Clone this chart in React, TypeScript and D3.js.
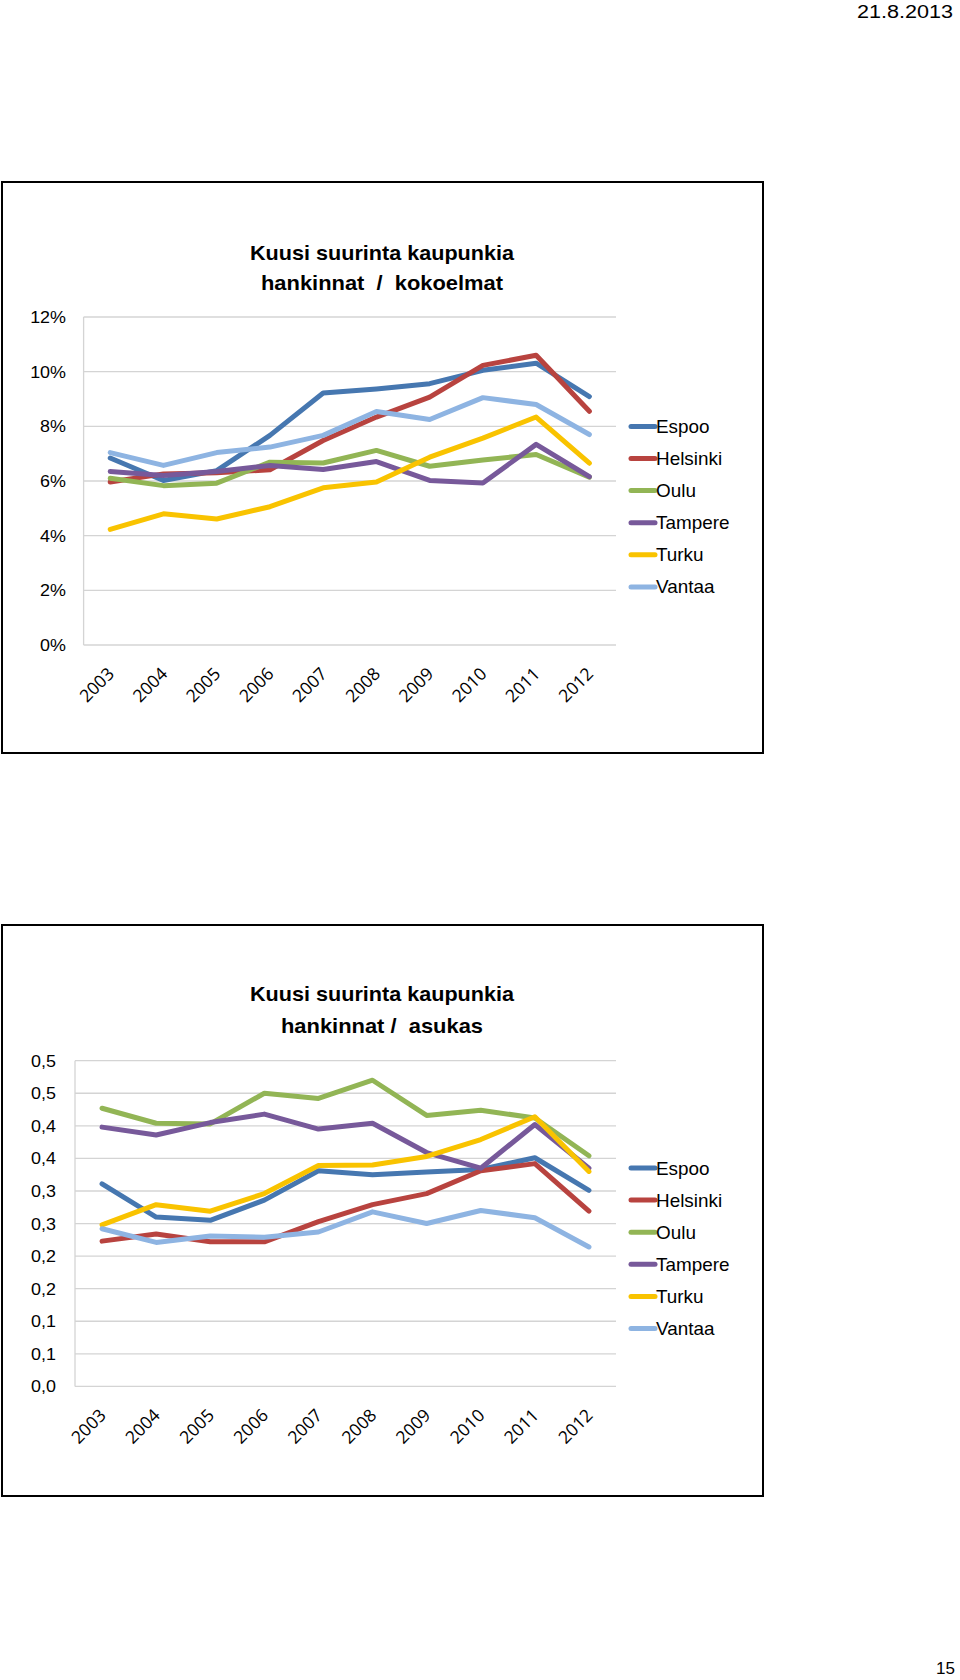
import React from "react";
import * as d3 from "d3";

const years = ["2003","2004","2005","2006","2007","2008","2009","2010","2011","2012"];
const cities = ["Espoo","Helsinki","Oulu","Tampere","Turku","Vantaa"];
const colors = ["#4677B0","#B8433F","#92B555","#77599A","#F9C300","#8EB4E2"];

// Chart 1: hankinnat / kokoelmat (%)
const kokoEspoo = [6.84,6.02,6.38,7.67,9.22,9.37,9.56,10.05,10.31,9.09];
const kokoHelsinki = [5.96,6.26,6.30,6.41,7.48,8.34,9.07,10.23,10.60,8.55];
const kokoOulu = [6.10,5.83,5.92,6.69,6.66,7.12,6.54,6.77,6.97,6.14];
const kokoTampere = [6.35,6.20,6.35,6.57,6.42,6.71,6.02,5.93,7.34,6.16];
const kokoTurku = [4.23,4.80,4.61,5.06,5.75,5.96,6.87,7.57,8.34,6.65];
const kokoVantaa = [7.04,6.57,7.04,7.24,7.67,8.54,8.25,9.05,8.80,7.70];
const kokoTicks = [0,2,4,6,8,10,12];
const kokoTickLabels = ["0%","2%","4%","6%","8%","10%","12%"];

// Chart 2: hankinnat / asukas
const asEspoo = [0.311,0.260,0.255,0.286,0.331,0.325,0.329,0.333,0.351,0.301];
const asHelsinki = [0.223,0.234,0.222,0.222,0.253,0.279,0.296,0.331,0.342,0.269];
const asOulu = [0.427,0.404,0.403,0.450,0.442,0.470,0.416,0.424,0.412,0.354];
const asTampere = [0.398,0.386,0.405,0.418,0.395,0.404,0.359,0.335,0.402,0.335];
const asTurku = [0.248,0.279,0.269,0.296,0.339,0.340,0.353,0.379,0.414,0.330];
const asVantaa = [0.242,0.221,0.231,0.229,0.237,0.268,0.250,0.270,0.259,0.214];
const asTicks = [0,0.05,0.1,0.15,0.2,0.25,0.3,0.35,0.4,0.45,0.5];
const asTickLabels = ["0,0","0,1","0,1","0,2","0,2","0,3","0,3","0,4","0,4","0,5","0,5"];

const kokoSeries = [kokoEspoo,kokoHelsinki,kokoOulu,kokoTampere,kokoTurku,kokoVantaa];
const asSeries = [asEspoo,asHelsinki,asOulu,asTampere,asTurku,asVantaa];

const SANS = "'Liberation Sans', Arial, sans-serif";
const YEARFONT = "'Open Sans', 'Liberation Sans', sans-serif";

type ChartProps = {
  box: [number, number, number, number];
  title2: string;
  titleY: [number, number];
  titleW: [number, number];
  series: number[][];
  yDomain: [number, number];
  yRange: [number, number];
  xRange: [number, number];
  ticks: number[];
  tickLabels: string[];
  tickRight: number;
  legendY: number;
};

function Chart(p: ChartProps) {
  const x = d3.scaleBand<string>().domain(years).range(p.xRange);
  const cx = (yr: string) => (x(yr) as number) + x.bandwidth() / 2;
  const y = d3.scaleLinear().domain(p.yDomain).range(p.yRange);
  const line = d3
    .line<number>()
    .x((_, i) => cx(years[i]))
    .y((v) => y(v));
  const [bx0, by0, bx1, by1] = p.box;
  const titleX = 382;
  const axisY = y(p.yDomain[0]);
  return (
    <g>
      <rect x={bx0} y={by0} width={bx1 - bx0} height={by1 - by0} fill="#fff" stroke="#000" strokeWidth={2} />
      <text x={titleX} y={p.titleY[0]} textAnchor="middle" fontFamily={SANS} fontWeight="bold" fontSize={21}
        textLength={p.titleW[0]} lengthAdjust="spacingAndGlyphs">Kuusi suurinta kaupunkia</text>
      <text x={titleX} y={p.titleY[1]} textAnchor="middle" fontFamily={SANS} fontWeight="bold" fontSize={21}
        textLength={p.titleW[1]} lengthAdjust="spacingAndGlyphs" style={{ whiteSpace: "pre" }}>{p.title2}</text>
      {p.ticks.map((t, i) => (
        <line key={"g" + i} x1={p.xRange[0]} x2={p.xRange[1]} y1={y(t)} y2={y(t)} stroke="#D4D4D4" strokeWidth={1.3} />
      ))}
      <line x1={p.xRange[0]} x2={p.xRange[0]} y1={y(p.yDomain[1])} y2={axisY} stroke="#D4D4D4" strokeWidth={1.3} />
      {p.ticks.map((t, i) => (
        <text key={"t" + i} transform={`translate(${p.tickRight},${y(t) + 6}) scale(1.12,1)`} textAnchor="end"
          fontFamily={SANS} fontSize={16} fill="#000">{p.tickLabels[i]}</text>
      ))}
      {years.map((yr) => (
        <text key={yr} transform={`translate(${cx(yr) + 5},${axisY + 30}) rotate(-45)`} textAnchor="end"
          fontFamily={YEARFONT} fontSize={17.5} fill="#000">{yr}</text>
      ))}
      {p.series.map((s, i) => (
        <path key={"s" + i} d={line(s) || ""} fill="none" stroke={colors[i]} strokeWidth={5}
          strokeLinejoin="round" strokeLinecap="round" />
      ))}
      {cities.map((c, i) => {
        const ly = p.legendY + i * 32.1;
        return (
          <g key={c}>
            <line x1={631} x2={655} y1={ly} y2={ly} stroke={colors[i]} strokeWidth={5} strokeLinecap="round" />
            <text transform={`translate(656,${ly + 6.5}) scale(1.05,1)`} fontFamily={SANS} fontSize={18} fill="#000">{c}</text>
          </g>
        );
      })}
    </g>
  );
}

export default function App() {
  return (
    <svg width={960} height={1680} style={{ position: "absolute", left: 0, top: 0, background: "#fff" }}>
      <rect x={0} y={0} width={960} height={1680} fill="#fff" />
      <text x={953} y={18} textAnchor="end" fontFamily={SANS} fontSize={18} textLength={96}
        lengthAdjust="spacingAndGlyphs">21.8.2013</text>
      <Chart
        box={[2, 182, 763, 753]}
        title2={"hankinnat  /  kokoelmat"}
        titleY={[260, 290]}
        titleW={[264, 242]}
        series={kokoSeries}
        yDomain={[0, 12]}
        yRange={[645, 317]}
        xRange={[83.6, 616]}
        ticks={kokoTicks}
        tickLabels={kokoTickLabels}
        tickRight={66}
        legendY={426.4}
      />
      <Chart
        box={[2, 925, 763, 1496]}
        title2={"hankinnat /  asukas"}
        titleY={[1001, 1033]}
        titleW={[264, 202]}
        series={asSeries}
        yDomain={[0, 0.5]}
        yRange={[1386.4, 1060.7]}
        xRange={[75, 616]}
        ticks={asTicks}
        tickLabels={asTickLabels}
        tickRight={56}
        legendY={1168}
      />
      <text x={955} y={1674} textAnchor="end" fontFamily={SANS} fontSize={17}>15</text>
    </svg>
  );
}
